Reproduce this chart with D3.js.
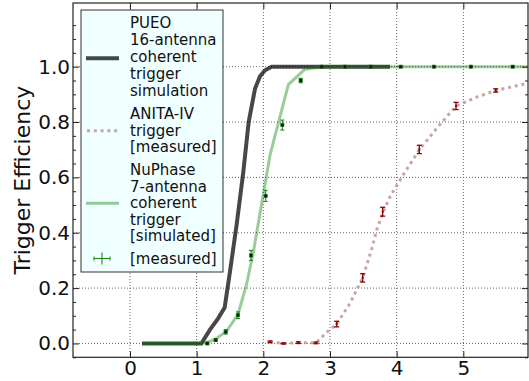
<!DOCTYPE html>
<html>
<head>
<meta charset="utf-8">
<script src="https://cdn.jsdelivr.net/npm/d3@7"></script>
<style>
  html, body { margin: 0; padding: 0; background: #fff; }
  svg { display: block; font-family: "DejaVu Sans", sans-serif; }
</style>
</head>
<body>
<svg id="chart" width="529" height="381"></svg>
<script>
// PUEO 16-antenna coherent trigger simulation
const pueoX = [0.18, 1.07, 1.2, 1.32, 1.42, 1.5, 1.6, 1.7, 1.78, 1.875, 1.95, 2.025, 2.125, 3.9];
const pueoY = [0, 0, 0.05, 0.09, 0.13, 0.26, 0.43, 0.62, 0.8, 0.92, 0.965, 0.987, 1.0, 1.0];

// NuPhase 7-antenna simulated
const nuSimX = [0.18, 1.05, 1.16, 1.3, 1.45, 1.62, 1.75, 1.85, 2.1, 2.375, 2.62, 2.875, 5.97];
const nuSimY = [0, 0, 0.004, 0.018, 0.045, 0.105, 0.215, 0.33, 0.68, 0.935, 0.99, 1.0, 1.0];

// NuPhase measured
const nuMeasX = [1.16, 1.285, 1.435, 1.62, 1.815, 2.035, 2.285, 2.56, 2.875, 3.225, 3.61, 4.06, 4.56, 5.115, 5.74];
const nuMeasY = [0.0, 0.012, 0.042, 0.102, 0.318, 0.533, 0.789, 0.95, 1.0, 1.0, 1.0, 1.0, 1.0, 1.0, 1.0];
const nuMeasErr = [0.002, 0.004, 0.008, 0.012, 0.018, 0.02, 0.018, 0.008, 0.002, 0.001, 0.001, 0.001, 0.001, 0.001, 0.001];

// ANITA-IV trigger measured
const anitaX = [2.1, 2.3, 2.525, 2.79, 3.1, 3.49, 3.79, 4.34, 4.89, 5.485];
const anitaY = [0.006, 0.0, 0.003, 0.002, 0.07, 0.237, 0.476, 0.701, 0.858, 0.914];
const anitaErr = [0.003, 0.002, 0.003, 0.003, 0.01, 0.015, 0.016, 0.015, 0.013, 0.006];
const anitaLineX = [2.1, 2.3, 2.525, 2.79, 2.95, 3.1, 3.3, 3.49, 3.63, 3.7, 3.79, 3.9, 4.0, 4.1, 4.34, 4.62, 4.89, 5.0, 5.2, 5.485, 5.97];
const anitaLineY = [0.006, 0.0, 0.003, 0.002, 0.04, 0.07, 0.145, 0.237, 0.345, 0.41, 0.47, 0.53, 0.57, 0.61, 0.70, 0.783, 0.858, 0.869, 0.89, 0.914, 0.94];

const xTicks = [0, 1, 2, 3, 4, 5];
const yTicks = [0.0, 0.2, 0.4, 0.6, 0.8, 1.0];
const yMinor = d3.range(-0.05, 1.16, 0.05).filter(v => yTicks.every(t => Math.abs(t - v) > 1e-6));

const legendEntries = [
  { lines: ['PUEO', '16-antenna', 'coherent', 'trigger', 'simulation'], y: [22.7, 40, 56.7, 74, 90.7], handleY: 58.3, kind: 'pueo' },
  { lines: ['ANITA-IV', 'trigger', '[measured]'], y: [113.3, 130.7, 147], handleY: 130.7, kind: 'anita' },
  { lines: ['NuPhase', '7-antenna', 'coherent', 'trigger', '[simulated]'], y: [169.3, 186.7, 203, 219.5, 236], handleY: 203.3, kind: 'nusim' },
  { lines: ['[measured]'], y: [258.5], handleY: 258.5, kind: 'numeas' }
];

const svg = d3.select('#chart');
const pLeft = 73, pRight = 528, pTop = 3, pBottom = 357.3;

const x = d3.scaleLinear().domain([-0.855, 5.97]).range([pLeft, pRight]);
const y = d3.scaleLinear().domain([-0.05, 1.23]).range([pBottom, pTop]);

// grid
const grid = svg.append('g').attr('stroke', '#666').attr('stroke-width', 1).attr('stroke-dasharray', '1,2');
xTicks.forEach(t => {
  grid.append('line').attr('x1', x(t)).attr('x2', x(t)).attr('y1', pTop).attr('y2', pBottom);
});
yTicks.forEach(t => {
  grid.append('line').attr('x1', pLeft).attr('x2', pRight).attr('y1', y(t)).attr('y2', y(t));
});

const toPts = (xs, ys) => xs.map((v, i) => [v, ys[i]]);
const line = d3.line().x(d => x(d[0])).y(d => y(d[1]));

// PUEO curve
svg.append('path')
  .attr('d', line(toPts(pueoX, pueoY)))
  .attr('fill', 'none')
  .attr('stroke', '#000')
  .attr('stroke-opacity', 0.72)
  .attr('stroke-width', 4);

// ANITA dotted curve
svg.append('path')
  .attr('d', line(toPts(anitaLineX, anitaLineY)))
  .attr('fill', 'none')
  .attr('stroke', '#bc8f8f')
  .attr('stroke-opacity', 0.8)
  .attr('stroke-width', 3)
  .attr('stroke-dasharray', '3,3.8');

// NuPhase simulated
svg.append('path')
  .attr('d', line(toPts(nuSimX, nuSimY)))
  .attr('fill', 'none')
  .attr('stroke', '#008000')
  .attr('stroke-opacity', 0.4)
  .attr('stroke-width', 3);

// ANITA measured error bars
const aBars = svg.append('g').attr('stroke', '#8b0000').attr('stroke-width', 1.3);
anitaX.forEach((v, i) => {
  const cx = x(v), y0 = y(anitaY[i] - anitaErr[i]), y1 = y(anitaY[i] + anitaErr[i]);
  aBars.append('line').attr('x1', cx).attr('x2', cx).attr('y1', y0).attr('y2', y1);
  aBars.append('line').attr('x1', cx - 2.5).attr('x2', cx + 2.5).attr('y1', y0).attr('y2', y0);
  aBars.append('line').attr('x1', cx - 2.5).attr('x2', cx + 2.5).attr('y1', y1).attr('y2', y1);
  aBars.append('rect').attr('x', cx - 1).attr('y', y(anitaY[i]) - 1).attr('width', 2).attr('height', 2)
    .attr('fill', '#8b0000').attr('stroke', 'none');
});

// NuPhase measured
const nBars = svg.append('g').attr('stroke', '#1a8a1a').attr('stroke-width', 1.1);
nuMeasX.forEach((v, i) => {
  const cx = x(v), y0 = y(nuMeasY[i] - nuMeasErr[i]), y1 = y(nuMeasY[i] + nuMeasErr[i]);
  nBars.append('line').attr('x1', cx).attr('x2', cx).attr('y1', y0).attr('y2', y1);
  nBars.append('line').attr('x1', cx - 2).attr('x2', cx + 2).attr('y1', y0).attr('y2', y0);
  nBars.append('line').attr('x1', cx - 2).attr('x2', cx + 2).attr('y1', y1).attr('y2', y1);
  nBars.append('rect').attr('x', cx - 1.6).attr('y', y(nuMeasY[i]) - 1.6).attr('width', 3.2).attr('height', 3.2)
    .attr('fill', '#0a1f0a').attr('stroke', '#1a6a1a').attr('stroke-width', 0.6);
});

// axes with inward ticks
const fs = 20;
function styleAxis(g) {
  g.select('.domain').remove();
  g.selectAll('.tick line').attr('stroke', '#222').attr('stroke-width', 1);
  g.selectAll('.tick text').attr('font-size', fs).attr('fill', '#111').attr('font-family', 'DejaVu Sans');
}
svg.append('g').attr('transform', `translate(0,${pBottom})`)
  .call(d3.axisBottom(x).tickValues(xTicks).tickFormat(d3.format('d')).tickSizeInner(-6).tickSizeOuter(0).tickPadding(3))
  .call(styleAxis);
svg.append('g').attr('transform', `translate(0,${pTop})`)
  .call(d3.axisTop(x).tickValues(xTicks).tickFormat('').tickSizeInner(-6).tickSizeOuter(0))
  .call(styleAxis);
svg.append('g').attr('transform', `translate(${pLeft},0)`)
  .call(d3.axisLeft(y).tickValues(yTicks).tickFormat(d3.format('.1f')).tickSizeInner(-6).tickSizeOuter(0).tickPadding(3))
  .call(styleAxis);
svg.append('g').attr('transform', `translate(${pRight},0)`)
  .call(d3.axisRight(y).tickValues(yTicks).tickFormat('').tickSizeInner(-6).tickSizeOuter(0))
  .call(styleAxis);
svg.append('g').attr('transform', `translate(${pLeft},0)`)
  .call(d3.axisLeft(y).tickValues(yMinor).tickFormat('').tickSizeInner(-3).tickSizeOuter(0))
  .call(styleAxis);
svg.append('g').attr('transform', `translate(${pRight},0)`)
  .call(d3.axisRight(y).tickValues(yMinor).tickFormat('').tickSizeInner(-3).tickSizeOuter(0))
  .call(styleAxis);

// frame
svg.append('rect')
  .attr('x', pLeft).attr('y', pTop).attr('width', pRight - pLeft).attr('height', pBottom - pTop)
  .attr('fill', 'none').attr('stroke', '#222').attr('stroke-width', 1.2);

// y label
svg.append('text')
  .attr('transform', `translate(29.5,${(pTop + pBottom) / 2}) rotate(-90)`)
  .attr('text-anchor', 'middle')
  .attr('font-size', 22)
  .attr('fill', '#111')
  .text('Trigger Efficiency');

// legend
const lg = svg.append('g');
lg.append('rect')
  .attr('x', 81).attr('y', 10).attr('width', 142).attr('height', 262)
  .attr('fill', '#f0ffff').attr('stroke', '#333').attr('stroke-width', 1);

legendEntries.forEach(e => {
  e.lines.forEach((t, i) => {
    lg.append('text').attr('x', 130).attr('y', e.y[i]).attr('dy', '0.36em')
      .attr('font-size', 15).attr('fill', '#111').text(t);
  });
  const hy = e.handleY;
  if (e.kind === 'pueo') {
    lg.append('line').attr('x1', 86).attr('x2', 119).attr('y1', hy).attr('y2', hy)
      .attr('stroke', '#000').attr('stroke-opacity', 0.72).attr('stroke-width', 4);
  } else if (e.kind === 'anita') {
    lg.append('line').attr('x1', 87).attr('x2', 118).attr('y1', hy).attr('y2', hy)
      .attr('stroke', '#bc8f8f').attr('stroke-opacity', 0.8).attr('stroke-width', 3).attr('stroke-dasharray', '3,3.8');
  } else if (e.kind === 'nusim') {
    lg.append('line').attr('x1', 86).attr('x2', 119).attr('y1', hy).attr('y2', hy)
      .attr('stroke', '#008000').attr('stroke-opacity', 0.4).attr('stroke-width', 3);
  } else {
    const g = lg.append('g').attr('stroke', '#1a8a1a').attr('stroke-width', 1.1);
    const cx = 102;
    g.append('line').attr('x1', cx - 8).attr('x2', cx + 8).attr('y1', hy).attr('y2', hy);
    g.append('line').attr('x1', cx - 8).attr('x2', cx - 8).attr('y1', hy - 2).attr('y2', hy + 2);
    g.append('line').attr('x1', cx + 8).attr('x2', cx + 8).attr('y1', hy - 2).attr('y2', hy + 2);
    g.append('line').attr('x1', cx).attr('x2', cx).attr('y1', hy - 6).attr('y2', hy + 6);
  }
});
</script>
</body>
</html>
